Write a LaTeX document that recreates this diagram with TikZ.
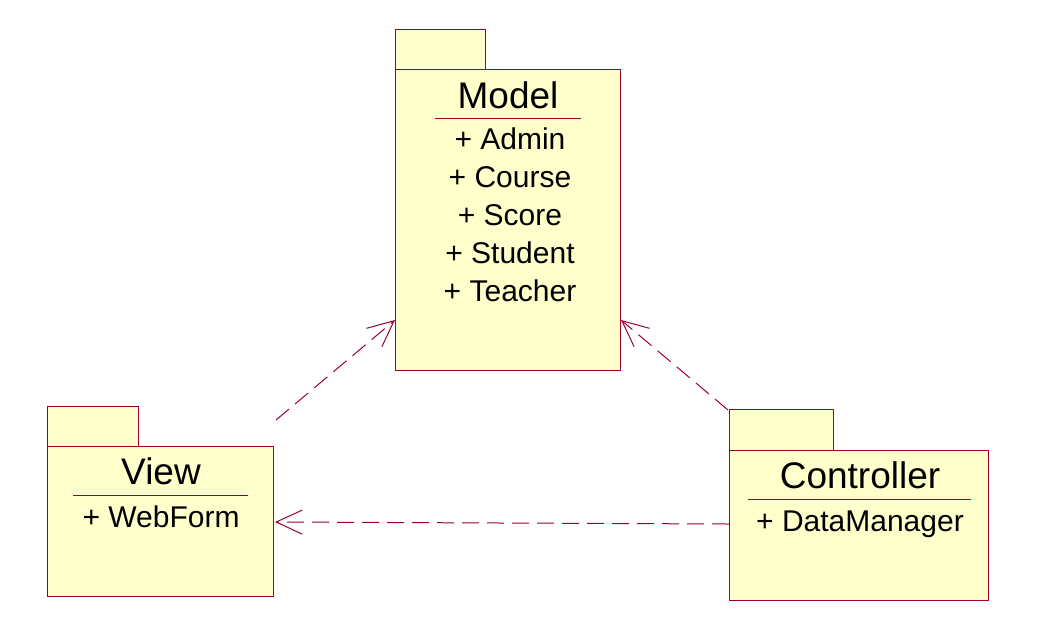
\documentclass[tikz,border=0pt]{standalone}
\usepackage{fontspec}
\setmainfont{Liberation Sans}
\usetikzlibrary{arrows.meta}
\definecolor{pkgfill}{HTML}{FFFFCC}
\definecolor{pkgline}{HTML}{990033}
\tikzset{
  pkg/.style={draw=pkgline, fill=pkgfill, line width=1pt, inner sep=0pt, anchor=north west},
  ttl/.style={font=\fontsize{37}{40}\selectfont, inner sep=0pt, anchor=base},
  itm/.style={font=\fontsize{30}{32}\selectfont, inner sep=0pt, anchor=base},
  sep/.style={draw=pkgline, line width=0.8pt},
  dep/.style={draw=pkgline, line width=1pt, dash pattern=on 17pt off 8pt,
    -{Straight Barb[length=26pt,width=24pt,line width=1pt]}}
}
\begin{document}
\begin{tikzpicture}[x=1pt,y=-1pt]
\useasboundingbox (0,0) rectangle (1040,633);
% Model
\node[pkg, minimum width=90pt, minimum height=40pt] (mtab) at (395,29) {};
\node[pkg, minimum width=225pt, minimum height=301pt] (mbody) at (395,69) {};
\node[ttl] (mttl) at (508,108) {Model};
\draw[sep] (435,118) -- (581,118);
\node[itm] (m1) at (510,149) {+ Admin};
\node[itm] (m2) at (510,187) {+ Course};
\node[itm] (m3) at (510,225) {+ Score};
\node[itm] (m4) at (510,263) {+ Student};
\node[itm] (m5) at (510,301) {+ Teacher};
% View
\node[pkg, minimum width=91pt, minimum height=40pt] (vtab) at (47,406) {};
\node[pkg, minimum width=226pt, minimum height=150pt] (vbody) at (47,446) {};
\node[ttl] (vttl) at (161,484) {View};
\draw[sep] (73,495) -- (248,495);
\node[itm] (v1) at (161,527) {+ WebForm};
% Controller
\node[pkg, minimum width=104pt, minimum height=41pt] (ctab) at (729,409) {};
\node[pkg, minimum width=259pt, minimum height=150pt] (cbody) at (729,450) {};
\node[ttl] (cttl) at (860,488) {Controller};
\draw[sep] (748,499) -- (971,499);
\node[itm] (c1) at (860,531) {+ DataManager};
% connectors
\coordinate (vstart) at (276,420);
\coordinate (mwest) at (395,320);
\coordinate (meast) at (621,320);
\coordinate (cstart) at (728,410);
\coordinate (cwest) at (729,524);
\coordinate (veast) at (275,522);
\draw[dep] (vstart) -- (mwest);
\draw[dep] (cstart) -- (meast);
\draw[dep] (cwest) -- (veast);
\end{tikzpicture}
\end{document}
